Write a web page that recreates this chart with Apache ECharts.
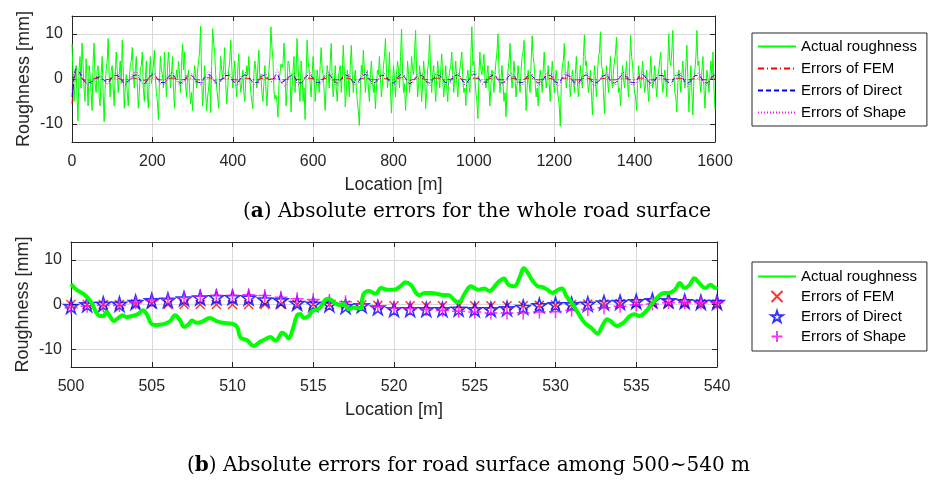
<!DOCTYPE html>
<html><head><meta charset="utf-8">
<script src="https://cdn.jsdelivr.net/npm/echarts@6/dist/echarts.min.js"></script>
<style>html,body{margin:0;padding:0;background:#fff}#c{width:929px;height:487px}</style>
</head><body><div id="c"></div><script>
// ---------- data ----------
const roughStep = 2.5; // metres between roughness samples (top panel)
const roughness = [
  7.8,1,-5,-1,3,-4,-9.3,2,5,-2, 8,3,-2,-5,4.5,0,-6,3,1,-3, -7,4,8,-1,-3,2,3,-4,-6,1, 5,-3,-9.5,-2,2,4,9,1,-4,2,
  3,-2,-6,1,6,2,-3,1,4,-1, 8.6,2,-6.5,-2,1,-3,-6,0,3,4, 7,1,-2,2,5,-1,-6.5,-3,2,3, 6,-2,-5,0,4,-3,-6.5,1,5,-1,
  1,3,6.4,0,-3,-5,-9,-1,5,2, 1,-2,6,1,-4,2,6,3,-2,1, 5,-2,-6.5,-1,2,0,4,1,-3,3, 7.8,2,6,-1,-4,0,2,-2,-5.5,-3,
  -7,-1,3,1,-2,2,4,6,11.7,0, -6,-2,3,-3,-7,-4,-2,1,-7.5,3, 11.2,8,6,1,-2,-4,-6.5,0,5,2, 0,3,7,-1,-5.5,-2,2,4,8.6,3,
  -2,1,4,-1,-4,2,5.6,0,-3,-1, 2,-3,-5,0,3,1,5,0,-3,-5, -6.6,1,4,2,-2,3,6.4,0,1,-3, -5,-1,3,-2,-6,-1,2,5,11.6,7,
  4.5,-2.6,-4.5,-3.6,-5,-8.5,-1,-0.7,3.3,2.5, 3.5,8,3,-6,-2.5,4,3.5,1,-7.3,-2, 2,5,-3,1,9,3,-2,-5,4,1, -5,-2,-9,1,8.6,4,2,-1,-4,1,
  5,1,-5,-2,2,0,-3,3,7,2, 1,-3,-7,-1,3,1,-2,4,7.9,0, -4,-1,3,-2,-5,0,2,3,-3,1, 7.5,2,-6.2,-3,2,0,-4,3,7.5,1,
  -3,0,2,-2,-5,-7,-10.3,-2,3,1, 6.4,2,-3,0,2,-2,-5,1,4,0, -3,-1,-6.6,-2,2,1,5,0,-4,-1, 3,5,9,2,-2,1,6,-3,-7.6,-1,
  3,0,-4,1,4,2,-2,5,11.1,2, -3,-1,-7,-2,4,1,-3,0,5,2, 1,6,10.8,2,-4,-1,3,0,-5,-1, 4,1,-6.6,-3,2,4,9.8,1,-3,1,
  3,-1,-5,0,4,1,-2,2,5.6,0, -4,-1,3,-2,-5,0,2,3,6,1, -3,1,4,-1,-4,0,2,4,6,0, -3,-2,-5.9,0,2,-1,-3,5,11.6,3,
  4,0,-3,-5,-8.8,1,6,2,1,3, 5.5,0,-2,1,3,-2,-6,-1,2,0, -3,1,4,6,10,2,-3,0,3,-1, -5,-3,-8.4,-2,2,4,7.9,1,-2,1,
  4,0,-4,-1,3,0,-3,2,5,6, 8.6,0,-7,-2,2,-1,-3,4,9.6,5, 3,-1,-4,-2,-6,-1,2,0,-3,2, 6,1,-2,0,3,-1,-5,0,4,1,
  -3,0,2,-2,-4,-6,-10.5,-1,3,4, 7.9,1,-2,0,4,1,-4,-1,2,0, -3,1,5,0,-4,-1,3,0,-2,5, 9.8,3,4,0,-3,-1,2,-3,-8,-2,
  3,0,-4,1,5,6,10.5,3,2,-3, -7.7,-1,3,0,-3,1,5,0,-2,2, 4,6,9.3,1,-3,-2,-6,-1,3,0, -2,1,4,-1,-4,3,9.7,5,3,-1,
  -3,-4,-7,-1,3,0,-2,1,4,0, -3,-1,2,-2,-5,0,5,1,-2,0, 3,-1,-4,0,2,4,6,0,-3,-1, 2,0,-4,3,10,4,3,6,10.8,2,
  -3,-4,-7.3,-1,2,0,-3,1,4,0, -2,3,7.5,0,-7.3,-2,3,-3,-8,0, 2,5,10.8,3,4,-1,-3,2,5,-2, -6.5,-1,2,0,-3,1,4,0,6,-2,
  -6.8
];
const errStep = 10; // metres between error samples (top panel)
const femErr = [
  -5.5,1.5,0.6,-0.2,-0.3,-0.1,0.2,0.1,-0.2,-0.1,
  0.1,0.2,0,-0.3,-0.1,0.2,0.1,-0.1,-0.3,0,
  0.2,0.1,-0.2,-0.2,0.1,0.2,0,-0.2,-0.1,0.2,
  0.1,-0.2,-0.2,0.1,0.3,0,-0.3,-0.1,0.2,0.1,
  -0.1,-0.2,0.1,0.2,0.1,-0.2,-0.2,0.1,0.2,0,
  0,0.1,-0.2,-0.2,0.1,0.2,-0.1,-0.2,0.1,0.2,
  0,-0.2,-0.1,0.1,0.2,-0.1,-0.2,0,0.2,0.1,
  -0.2,-0.2,0.1,0.2,0,-0.2,-0.1,0.2,0.1,-0.1,
  -0.2,0.1,0.3,0,-0.3,-0.1,0.2,0.1,-0.1,-0.2,
  0.1,0.2,0.1,-0.2,-0.1,0.1,0.2,0,-0.2,0,
  0.2,0.1,-0.2,-0.2,0.1,0.2,0,-0.2,-0.1,0.2,
  0.1,-0.2,-0.2,0.1,0.2,0,-0.2,-0.1,0.2,0.1,
  -0.1,-0.2,0.1,0.2,0.1,-0.2,-0.2,0.1,0.2,0,
  -0.2,-0.1,0.1,0.2,-0.1,-0.2,0,0.2,0.1,-0.2,
  -0.2,0.1,0.2,0,-0.2,-0.1,0.2,0.1,-0.1,-0.2,
  0.1,0.2,0,-0.2,-0.1,0.1,0.2,-0.1,-0.2,0,
  0.2
];
const directErr = [
  -4,2.2,1.2,-0.5,-0.8,-0.6,0.2,0.5,-0.3,-0.7,
  0.4,0.8,0.3,-0.9,-0.5,0.6,0.9,-0.2,-1,0.1,
  0.9,0.4,-0.7,-0.8,0.5,0.9,-0.2,-0.9,-0.2,0.8,
  0.6,-0.6,-0.8,0.3,1,0.2,-0.9,-0.4,0.7,0.8,
  -0.4,-0.9,0.2,0.9,0.4,-0.7,-0.8,0.4,0.9,-0.1,
  0,1.2,-0.8,-0.3,0.5,0.8,-0.6,-0.9,0.3,1,
  0.2,-0.8,-0.6,0.6,0.9,-0.3,-0.9,0,0.9,0.5,
  -0.7,-0.8,0.4,1,0,-0.9,-0.3,0.8,0.7,-0.5,
  -0.9,0.3,1,0.1,-1,-0.4,0.7,0.8,-0.4,-0.9,
  0.2,0.9,0.3,-0.8,-0.6,0.6,0.9,-0.2,-0.9,0.1,
  1.1,0.4,-0.7,-0.7,0.5,0.9,-0.2,-0.9,-0.2,0.8,
  0.6,-0.6,-0.8,0.3,0.9,0.2,-0.9,-0.4,0.7,0.8,
  -0.4,-0.9,0.2,0.9,0.4,-0.7,-0.8,0.4,0.9,-0.1,
  -0.9,-0.5,0.6,0.9,-0.3,-0.9,0,0.9,0.5,-0.7,
  -0.8,0.4,1,0,-0.9,-0.3,0.8,0.7,-0.5,-0.9,
  0.3,1,0.1,-1,-0.4,0.7,0.8,-0.4,-0.9,0.2,
  0.9
];
const shapeErr = [
  -2.5,2.6,1.8,-0.3,-1.2,-0.9,0.5,0.9,-0.6,-1.2,
  0.7,1.3,0.4,-1.4,-0.7,1,1.6,-0.4,-1.5,0.2,
  1.4,0.6,-1.1,-1.3,0.8,1.5,-0.3,-1.5,-0.3,1.3,
  1,-1,-1.3,0.5,1.7,0.3,-1.5,-0.6,1.2,1.3,
  -0.6,-1.5,0.3,1.5,0.6,-1.1,-1.3,0.6,1.5,-0.2,
  -0.7,2.1,-0.7,-1.6,0.4,1.3,-1,-1.5,0.5,1.7,
  0.3,-1.3,-1,1,1.5,-0.5,-1.5,0,1.5,0.8,
  -1.1,-1.3,0.6,1.7,0,-1.5,-0.5,1.3,1.1,-0.8,
  -1.5,0.5,1.8,0.2,-1.7,-0.6,1.1,1.3,-0.6,-1.5,
  0.3,1.5,0.5,-1.3,-1,1,1.5,-0.3,-1.5,0.2,
  1.9,0.6,-1.1,-1.2,0.8,1.5,-0.3,-1.5,-0.3,1.3,
  1,-1,-1.3,0.5,1.5,0.3,-1.5,-0.6,1.2,1.3,
  -0.6,-1.5,0.3,1.5,0.6,-1.1,-1.3,0.6,1.5,-0.2,
  -1.5,-0.8,1,1.5,-0.5,-1.5,0,1.5,0.8,-1.1,
  -1.3,0.6,1.7,0,-1.5,-0.5,1.3,1.1,-0.8,-1.5,
  0.5,1.8,0.2,-1.7,-0.6,1.1,1.3,-0.6,-1.5,0.3,
  1.4
];
// bottom panel: 500~540 m
const zoomLoc = [500,500.34,500.86,501.27,501.58,501.79,502.0,502.2,502.4,502.66,502.93,503.2,503.45,503.76,504.17,504.44,504.7,505.0,505.3,505.72,506.14,506.45,506.76,507.0,507.3,507.48,507.8,508.1,508.6,509.0,509.4,509.97,510.28,510.5,510.9,511.31,511.73,512.14,512.35,512.66,512.86,513.07,513.28,513.48,513.7,514.0,514.2,514.4,514.7,514.94,515.25,515.45,515.76,515.97,516.3,516.6,516.9,517.2,517.5,517.94,518.1,518.45,518.87,519.2,519.6,520.0,520.4,520.7,521.04,521.56,521.9,522.3,522.9,523.4,523.7,524.0,524.4,524.77,525.2,525.6,525.9,526.4,526.8,527.1,527.46,527.8,528.04,528.3,528.6,528.9,529.2,529.5,529.8,530.16,530.4,530.67,531.0,531.4,531.8,532.2,532.6,532.9,533.2,533.4,533.8,534.2,534.6,534.9,535.2,535.5,535.95,536.4,536.7,537.0,537.4,537.7,538.0,538.3,538.6,538.9,539.26,539.6,539.9,540.0];
const zoomRough = [4.6,3.3,2.1,0.4,-1.9,-2.6,-2.6,-1.6,-2.6,-3.7,-3.0,-2.4,-2.8,-2.6,-2.1,-1.3,-2.2,-4.4,-4.6,-4.4,-3.7,-2.4,-3.6,-5.0,-4.4,-3.6,-4.1,-3.9,-3.0,-3.7,-4.1,-4.3,-5.0,-7.4,-8.0,-9.3,-8.3,-7.6,-7.3,-8.1,-7.4,-6.3,-6.8,-7.6,-5.9,-2.4,-2.1,-3.0,-2.6,-1.5,-1.1,-0.6,1.1,1.3,0.4,-0.1,0.1,-1.1,-0.7,-0.9,2.2,3.0,2.4,3.7,3.3,3.3,4.1,5.0,4.4,2.1,2.6,2.6,2.2,2.1,1.1,0.4,2.6,4.1,3.3,3.6,3.0,4.8,5.8,4.4,4.1,6.3,8.1,7.0,5.2,4.1,3.9,3.3,2.6,3.3,3.6,1.9,0.4,-1.9,-4.1,-5.2,-6.5,-4.8,-3.3,-3.7,-4.8,-4.1,-2.6,-2.2,-2.6,-1.9,0.0,1.9,2.6,2.6,3.3,4.8,3.7,4.4,5.9,4.8,3.7,4.4,3.7,4.0];
const zoomPts = [500,501,502,503,504,505,506,507,508,509,510,511,512,513,514,515,516,517,518,519,520,521,522,523,524,525,526,527,528,529,530,531,532,533,534,535,536,537,538,539,540];
const zoomFem = [0,0,0,0,0.1,0.1,0,0,0,0,0, 0,0,0,0,0,0,-0.1,-0.1,-0.2,-0.3, -0.3,-0.3,-0.3,-0.3,-0.3,-0.3,-0.3,-0.3,-0.2,-0.1, 0,0.1,0.1,0.2,0.2,0.2,0.2,0.2,0.2,0.1];
const zoomDirect = [-0.4,0,0.1,0.1,0.5,0.9,1.0,1.3,1.5,1.6,1.6, 1.5,1.1,0.9,0.3,0.1,0,-0.4,-0.2,-0.7,-1.1, -1.1,-1.1,-1.1,-1.0,-1.1,-1.1,-0.9,-0.6,-0.2,0, 0,0.1,0.4,0.5,0.7,0.9,0.9,0.7,0.5,0.5];
const zoomShape = [-0.7,-0.4,-0.2,-0.2,0.4,0.9,1.1,1.5,1.9,2.1,2.1, 2.2,2.0,1.6,1.3,1.1,0.9,0.6,0.1,-0.4,-0.7, -0.9,-1.1,-1.3,-1.5,-1.7,-1.9,-1.9,-1.9,-1.7,-1.6, -1.3,-1.1,-0.7,-0.4,-0.1,0.1,0.4,0.4,0.4,0.4];
const yTicks = [-10, 0, 10];
const seriesNames = ['Actual roughness', 'Errors of FEM', 'Errors of Direct', 'Errors of Shape'];
const captionA = 'Absolute errors for the whole road surface';
const captionB = 'Absolute errors for road surface among 500~540 m';

// ---------- chart ----------
const FONT = 'Liberation Sans, Arial, Helvetica, sans-serif';
const AX = '#262626';
const GRIDC = '#d9d9d9';

function xAx(gi, min, max, interval, pos, main) {
  return {
    type: 'value', gridIndex: gi, min: min, max: max, interval: interval, position: pos,
    axisLine: {show: true, onZero: false, lineStyle: {color: AX, width: 1}},
    axisTick: {show: true, inside: true, length: 5, lineStyle: {color: AX}},
    axisLabel: {show: main, color: AX, fontSize: 16, fontFamily: FONT, margin: 12, formatter: v => String(v)},
    splitLine: {show: main, lineStyle: {color: GRIDC, width: 1}},
    name: main ? 'Location [m]' : '', nameLocation: 'middle', nameGap: 34, nameMoveOverlap: false,
    nameTextStyle: {color: AX, fontSize: 18, fontFamily: FONT}
  };
}
function yAx(gi, pos, main) {
  return {
    type: 'value', gridIndex: gi, min: -14, max: 14, position: pos,
    axisLine: {show: true, onZero: false, lineStyle: {color: AX, width: 1}},
    axisTick: {show: true, inside: true, length: 5, lineStyle: {color: AX}, customValues: yTicks},
    axisLabel: {show: main, color: AX, fontSize: 16, fontFamily: FONT, margin: 9, customValues: yTicks},
    splitLine: {show: main, lineStyle: {color: GRIDC, width: 1}},
    name: main ? 'Roughness [mm]' : '', nameLocation: 'middle', nameGap: 39, nameMoveOverlap: false,
    nameTextStyle: {color: AX, fontSize: 18, fontFamily: FONT}
  };
}

const STAR = 'path://M50,0L61.23,34.55L97.55,34.55L68.16,55.9L79.39,90.45L50,69.1L20.61,90.45L31.84,55.9L2.45,34.55L38.77,34.55Z';
const XMARK = 'path://M0,0L10,10M10,0L0,10';
const PLUS = 'path://M5,0L5,10M0,5L10,5';

const topRough = roughness.map((v, i) => [i * roughStep, v]);
const mk = arr => arr.map((v, i) => [i * errStep, v]);
const zoomLine = zoomLoc.map((x, i) => [x, zoomRough[i]]);
const zp = arr => zoomPts.map((x, i) => [x, arr[i]]);

const noSym = {color: 'rgba(0,0,0,0)', borderColor: 'rgba(0,0,0,0)', borderWidth: 0, opacity: 0};
const legendBase = {
  orient: 'vertical', left: 752, itemWidth: 38,
  backgroundColor: '#fff', borderColor: AX, borderWidth: 1,
  textStyle: {color: '#000', fontSize: 15, fontFamily: FONT},
  selectedMode: false
};

const option = {
  animation: false,
  backgroundColor: '#fff',
  title: [
    {text: '({b|a}) ' + captionA, left: 243, top: 202, padding: 0,
     textStyle: {fontFamily: 'DejaVu Serif', fontSize: 20, fontWeight: 'normal', color: '#000',
       rich: {b: {fontFamily: 'DejaVu Serif', fontSize: 20, fontWeight: 'bold', color: '#000'}}}},
    {text: '({b|b}) ' + captionB, left: 187, top: 456, padding: 0,
     textStyle: {fontFamily: 'DejaVu Serif', fontSize: 20, fontWeight: 'normal', color: '#000',
       rich: {b: {fontFamily: 'DejaVu Serif', fontSize: 20, fontWeight: 'bold', color: '#000'}}}}
  ],
  legend: [
    Object.assign({}, legendBase, {top: 33, itemHeight: 14, itemGap: 7, padding: [6, 10, 6, 5],
      data: seriesNames.map(n => ({name: n, itemStyle: noSym}))}),
    Object.assign({}, legendBase, {top: 262, itemHeight: 11, itemGap: 5, padding: [7, 10, 7, 5],
      data: seriesNames.map((n, i) => i === 0 ? {name: 'b:' + n, itemStyle: noSym} : {name: 'b:' + n}),
      formatter: n => n.replace('b:', '')})
  ],
  grid: [
    {left: 72, top: 16, width: 643, height: 126},
    {left: 71, top: 242, width: 646, height: 125}
  ],
  xAxis: [
    xAx(0, 0, 1600, 200, 'bottom', true),
    xAx(0, 0, 1600, 200, 'top', false),
    xAx(1, 500, 540, 5, 'bottom', true),
    xAx(1, 500, 540, 5, 'top', false)
  ],
  yAxis: [
    yAx(0, 'left', true),
    yAx(0, 'right', false),
    yAx(1, 'left', true),
    yAx(1, 'right', false)
  ],
  series: [
    {name: seriesNames[0], type: 'line', xAxisIndex: 0, yAxisIndex: 0, data: topRough, symbol: 'none',
     lineStyle: {color: '#00ff00', width: 1}, itemStyle: {color: '#00ff00'}},
    {name: seriesNames[1], type: 'line', xAxisIndex: 0, yAxisIndex: 0, data: mk(femErr), symbol: 'none', smooth: 0.3,
     lineStyle: {color: '#ff0000', width: 1, type: [6, 3, 1, 3]}, itemStyle: {color: '#ff0000'}},
    {name: seriesNames[2], type: 'line', xAxisIndex: 0, yAxisIndex: 0, data: mk(directErr), symbol: 'none', smooth: 0.3,
     lineStyle: {color: '#0000ff', width: 1, type: [5, 3]}, itemStyle: {color: '#0000ff'}},
    {name: seriesNames[3], type: 'line', xAxisIndex: 0, yAxisIndex: 0, data: mk(shapeErr), symbol: 'none', smooth: 0.3,
     lineStyle: {color: '#ff00ff', width: 1, type: [1, 2]}, itemStyle: {color: '#ff00ff'}},

    {name: 'b:' + seriesNames[0], type: 'line', xAxisIndex: 2, yAxisIndex: 2, data: zoomLine, symbol: 'none', smooth: 0.4,
     lineStyle: {color: '#00ff00', width: 4}, itemStyle: {color: '#00ff00'}},
    {name: 'b:' + seriesNames[1], type: 'scatter', xAxisIndex: 2, yAxisIndex: 2, data: zp(zoomFem),
     symbol: XMARK, symbolSize: 9, itemStyle: {color: 'rgba(0,0,0,0)', borderColor: '#ff0000', borderWidth: 1.5}},
    {name: 'b:' + seriesNames[2], type: 'scatter', xAxisIndex: 2, yAxisIndex: 2, data: zp(zoomDirect),
     symbol: STAR, symbolSize: 14, itemStyle: {color: 'rgba(0,0,0,0)', borderColor: '#0000ff', borderWidth: 1.6}},
    {name: 'b:' + seriesNames[3], type: 'scatter', xAxisIndex: 2, yAxisIndex: 2, data: zp(zoomShape),
     symbol: PLUS, symbolSize: 13, itemStyle: {color: 'rgba(0,0,0,0)', borderColor: '#ff00ff', borderWidth: 1.5}}
  ]
};
const chart = echarts.init(document.getElementById('c'), null, {renderer: 'canvas'});
chart.setOption(option);
</script></body></html>
